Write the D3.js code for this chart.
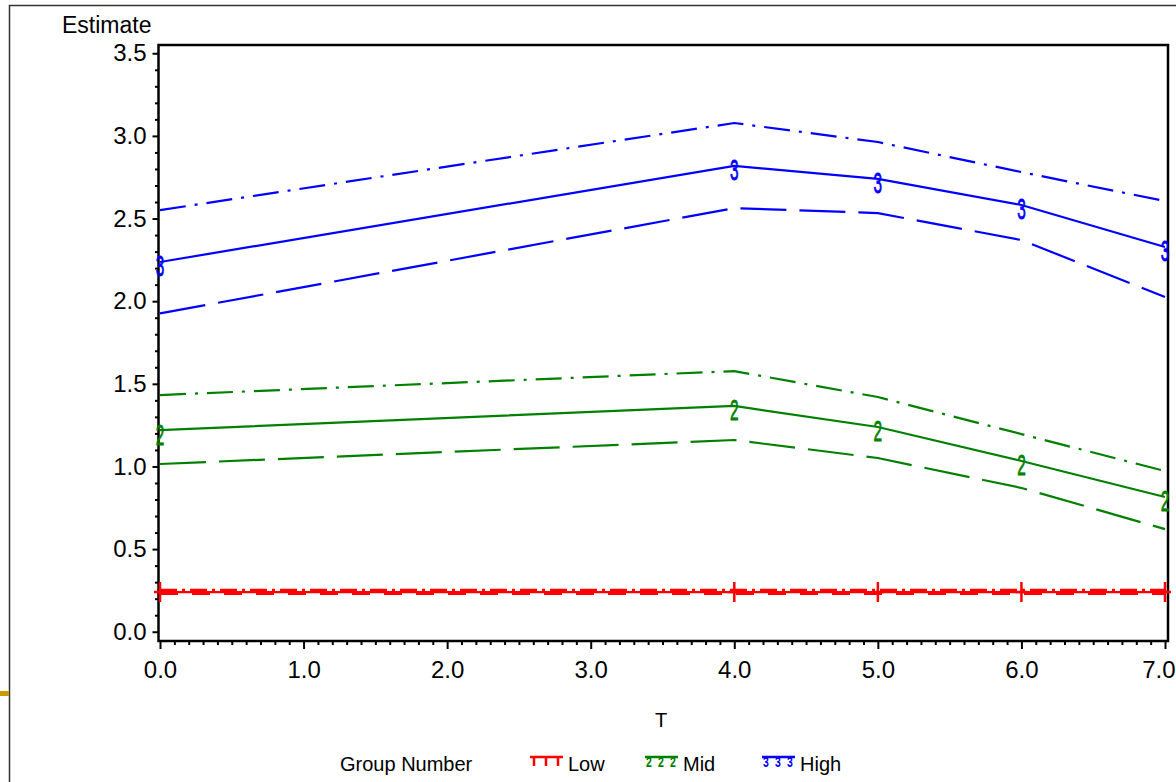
<!DOCTYPE html>
<html lang="en">
<head>
	<meta charset="UTF-8">
	<title>Estimate by T</title>
	<style>
		body {
			margin: 0;
			background: #fff;
			font-family: "Liberation Sans", Arial, sans-serif;
		}
		svg text {
			fill: #000;
		}
	</style>
</head>
<body>
<svg></svg>
<script src="https://cdnjs.cloudflare.com/ajax/libs/d3/7.8.5/d3.min.js"></script>
<script>
	// values
	const tValues = [0, 4, 5, 6, 7];
	const xTicks = [0, 1, 2, 3, 4, 5, 6, 7];
	const xTickLabels = ['0.0', '1.0', '2.0', '3.0', '4.0', '5.0', '6.0', '7.0'];
	const yTicks = [0, 0.5, 1, 1.5, 2, 2.5, 3, 3.5];
	const yTickLabels = ['0.0', '0.5', '1.0', '1.5', '2.0', '2.5', '3.0', '3.5'];

	const groups = ['Low', 'Mid', 'High'];
	const lowMean  = [0.240, 0.240, 0.240, 0.240, 0.240];
	const lowUpper = [0.253, 0.253, 0.253, 0.253, 0.253];
	const lowLower = [0.229, 0.229, 0.229, 0.229, 0.229];
	const midMean  = [1.220, 1.366, 1.239, 1.033, 0.815];
	const midUpper = [1.432, 1.577, 1.420, 1.196, 0.972];
	const midLower = [1.015, 1.160, 1.051, 0.870, 0.621];
	const highMean  = [2.237, 2.818, 2.740, 2.582, 2.328];
	const highUpper = [2.551, 3.078, 2.963, 2.781, 2.606];
	const highLower = [1.926, 2.563, 2.533, 2.370, 2.025];

	const width = 1176, height = 782;
	const colors = { Low: '#ff0000', Mid: '#008000', High: '#0000ff' };
	const symbols = { Low: '+', Mid: '2', High: '3' };
	const series = [
		{ group: 'Low', mean: lowMean, upper: lowUpper, lower: lowLower },
		{ group: 'Mid', mean: midMean, upper: midUpper, lower: midLower },
		{ group: 'High', mean: highMean, upper: highUpper, lower: highLower }
	];

	const svg = d3.select('svg')
		.attr('width', width)
		.attr('height', height);

	// slide frame and the little gold bar on the left
	svg.append('path')
		.attr('d', `M9.5,${height}V5.5H${width}`)
		.attr('fill', 'none')
		.attr('stroke', '#333')
		.attr('stroke-width', 1.5);
	svg.append('rect')
		.attr('x', 0).attr('y', 691)
		.attr('width', 9).attr('height', 5)
		.attr('fill', '#cc9900');

	const x = d3.scaleLinear().domain([0, 7]).range([160, 1165]);
	const y = d3.scaleLinear().domain([-0.05, 3.55]).range([640, 45]);

	const plotL = 158.5, plotR = 1168, plotT = 45, plotB = 641;

	// minor ticks
	const xMinor = d3.range(0, 7.001, 0.1).filter(v => Math.abs(v - Math.round(v)) > 1e-6);
	const yMinor = d3.range(0, 3.55, 0.1).filter(v => Math.abs(v * 2 - Math.round(v * 2)) > 1e-6);

	svg.append('g')
		.attr('transform', `translate(0,${plotB})`)
		.call(d3.axisBottom(x).tickValues(xMinor).tickSize(4).tickFormat(''))
		.call(g => g.select('.domain').remove())
		.selectAll('line').attr('stroke-width', 2);

	svg.append('g')
		.attr('transform', `translate(${plotL},0)`)
		.call(d3.axisLeft(y).tickValues(yMinor).tickSize(3.5).tickFormat(''))
		.call(g => g.select('.domain').remove())
		.selectAll('line').attr('stroke-width', 2);

	// major ticks
	svg.append('g')
		.attr('transform', `translate(0,${plotB})`)
		.call(d3.axisBottom(x).tickValues(xTicks).tickSize(8).tickPadding(12)
			.tickFormat((d, i) => xTickLabels[i]))
		.call(g => g.select('.domain').remove())
		.call(g => g.selectAll('line').attr('stroke-width', 2))
		.call(g => g.selectAll('text').attr('font-family', 'Liberation Sans').attr('font-size', 24).attr('fill', '#000'))
		// last label sits against the window edge: pull it in so it stays whole
		.call(g => g.selectAll('text').filter((d, i) => i === xTicks.length - 1)
			.attr('text-anchor', 'end').attr('x', width - 1 - x(7)));

	svg.append('g')
		.attr('transform', `translate(${plotL},0)`)
		.call(d3.axisLeft(y).tickValues(yTicks).tickSize(6).tickPadding(6)
			.tickFormat((d, i) => yTickLabels[i]))
		.call(g => g.select('.domain').remove())
		.call(g => g.selectAll('line').attr('stroke-width', 2))
		.call(g => g.selectAll('text').attr('font-family', 'Liberation Sans').attr('font-size', 24).attr('fill', '#000'));

	// plot frame
	svg.append('rect')
		.attr('x', plotL).attr('y', plotT)
		.attr('width', plotR - plotL).attr('height', plotB - plotT)
		.attr('fill', 'none')
		.attr('stroke', '#000')
		.attr('stroke-width', 2.5);

	// axis titles
	svg.append('text')
		.attr('x', 62).attr('y', 33)
		.attr('font-size', 23)
		.text('Estimate');
	svg.append('text')
		.attr('x', 661).attr('y', 727)
		.attr('text-anchor', 'middle')
		.attr('font-size', 20)
		.text('T');

	const line = d3.line()
		.x((d, i) => x(tValues[i]))
		.y(d => y(d));

	const dashes = {
		mean: null,
		upper: '26,9,3,9',
		lower: '46,13'
	};
	const lowDashes = { mean: null, upper: '17,5,3,5', lower: '18,14' };

	series.forEach(s => {
		const c = colors[s.group];
		['upper', 'lower', 'mean'].forEach(k => {
			svg.append('path')
				.datum(s[k])
				.attr('d', line)
				.attr('fill', 'none')
				.attr('stroke', c)
				.attr('stroke-width', 2.2)
				.attr('stroke-dasharray', s.group === 'Low' ? lowDashes[k] : dashes[k]);
		});

		const marks = svg.append('g').selectAll('g')
			.data(s.mean)
			.join('g')
			.attr('transform', (d, i) => `translate(${x(tValues[i])},${y(d)})`);

		if (s.group === 'Low') {
			marks.append('path')
				.attr('d', 'M0,-10V10M-6,0H6')
				.attr('stroke', c)
				.attr('stroke-width', 2.5);
		} else {
			marks.append('text')
				.attr('transform', 'scale(0.7,1.35)')
				.attr('text-anchor', 'middle')
				.attr('y', 10.7)
				.attr('font-size', 22)
				.attr('stroke', c)
				.attr('stroke-width', 0.6)
				.style('fill', c)
				.text(symbols[s.group]);
		}
	});

	// legend
	const legend = svg.append('g');
	legend.append('text')
		.attr('x', 340).attr('y', 771)
		.attr('font-size', 20)
		.text('Group Number');

	const legendX = [530, 645, 762];
	groups.forEach((gname, i) => {
		const c = colors[gname];
		const lg = legend.append('g').attr('transform', `translate(${legendX[i]},757)`);
		lg.append('line')
			.attr('x1', 0).attr('x2', 33)
			.attr('stroke', c).attr('stroke-width', 2.5);
		[4, 16, 28].forEach(px => {
			if (gname === 'Low') {
				lg.append('path')
					.attr('d', `M${px},0V9`)
					.attr('stroke', c).attr('stroke-width', 2.5);
			} else {
				lg.append('text')
					.attr('transform', `translate(${px},10) scale(0.75,1)`)
					.attr('text-anchor', 'middle')
					.attr('font-size', 14)
					.attr('font-weight', 'bold')
					.style('fill', c)
					.text(symbols[gname]);
			}
		});
		lg.append('text')
			.attr('x', 38).attr('y', 14)
			.attr('font-size', 20)
			.text(gname);
	});
</script>
</body>
</html>
